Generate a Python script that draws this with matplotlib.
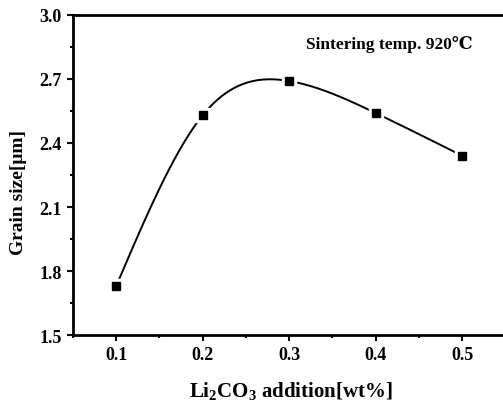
import numpy as np
import matplotlib
matplotlib.use("Agg")
import matplotlib.pyplot as plt
from matplotlib.ticker import MultipleLocator

li2co3 = [0.1, 0.2, 0.3, 0.4, 0.5]
grain_size = [1.73, 2.53, 2.69, 2.54, 2.34]
x_ticks = [0.1, 0.2, 0.3, 0.4, 0.5]
y_ticks = [1.5, 1.8, 2.1, 2.4, 2.7, 3.0]

serif = ['Liberation Serif', 'DejaVu Serif']
plt.rcParams['font.family'] = serif
plt.rcParams['font.weight'] = 'bold'
plt.rcParams['mathtext.fontset'] = 'custom'
plt.rcParams['mathtext.rm'] = 'Liberation Serif:bold'
plt.rcParams['mathtext.bf'] = 'Liberation Serif:bold'
plt.rcParams['mathtext.it'] = 'Liberation Serif:bold:italic'
plt.rcParams['mathtext.default'] = 'bf'


def natural_spline(x, y, n=300):
    x = np.asarray(x, float); y = np.asarray(y, float)
    k = len(x); h = np.diff(x)
    A = np.zeros((k, k)); b = np.zeros(k)
    A[0, 0] = A[-1, -1] = 1
    for i in range(1, k - 1):
        A[i, i - 1] = h[i - 1]; A[i, i] = 2 * (h[i - 1] + h[i]); A[i, i + 1] = h[i]
        b[i] = 6 * ((y[i + 1] - y[i]) / h[i] - (y[i] - y[i - 1]) / h[i - 1])
    M = np.linalg.solve(A, b)
    xs = np.linspace(x[0], x[-1], n); ys = np.empty_like(xs)
    for j, t in enumerate(xs):
        i = min(np.searchsorted(x, t, side='right') - 1, k - 2)
        a = x[i + 1] - t; c = t - x[i]
        ys[j] = (M[i] * a**3 + M[i + 1] * c**3) / (6 * h[i]) + \
            (y[i] / h[i] - M[i] * h[i] / 6) * a + (y[i + 1] / h[i] - M[i + 1] * h[i] / 6) * c
    return xs, ys


fig = plt.figure(figsize=(5.03, 4.06), dpi=100)
ax = fig.add_axes([0.145, 0.172, 0.86, 0.789])

xs, ys = natural_spline(li2co3, grain_size)
ax.plot(xs, ys, color='black', lw=1.4, zorder=2)
ax.plot(li2co3, grain_size, ls='none', marker='s', ms=10, color='white', zorder=3)
ax.plot(li2co3, grain_size, ls='none', marker='s', ms=6.3, color='black', zorder=4)

ax.set_xlim(0.05, 0.55)
ax.set_ylim(1.5, 3.0)
ax.set_xticks(x_ticks)
ax.set_yticks(y_ticks)
ax.set_xticklabels([f"{v:.1f}" for v in x_ticks])
ax.set_yticklabels([f"{v:.1f}" for v in y_ticks])
ax.xaxis.set_minor_locator(MultipleLocator(0.05))
ax.yaxis.set_minor_locator(MultipleLocator(0.15))
ax.tick_params(which='both', direction='out', width=1.5)
ax.tick_params(which='major', length=4, labelsize=13, pad=4)
ax.tick_params(which='minor', length=2.5)
for lab in ax.get_xticklabels() + ax.get_yticklabels():
    lab.set_fontweight('bold')
for s in ax.spines.values():
    s.set_linewidth(2)

ax.set_xlabel(r"Li$_{2}$CO$_{3}$ addition[wt%]", fontsize=15, fontweight='bold')
ax.xaxis.set_label_coords(0.504, -0.137)
ax.set_ylabel("Grain size[μm]", fontsize=14, fontweight='bold')
ax.yaxis.set_label_coords(-0.106, 0.45)
ax.text(0.731, 0.91, "Sintering temp. 920℃", transform=ax.transAxes, ha='center', va='center',
        fontsize=12.5, fontweight='bold', family=serif)

fig.savefig("out.png", dpi=100)
